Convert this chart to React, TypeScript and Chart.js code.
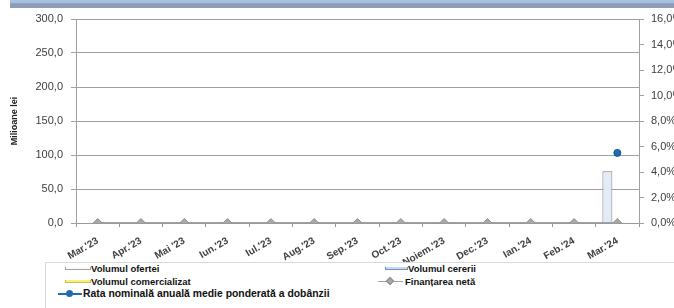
import React, { useEffect, useRef } from "react";
import { Chart, registerables } from "chart.js";

Chart.register(...registerables);

const categories = [
  "Mar.'23", "Apr.'23", "Mai '23", "Iun.'23", "Iul.'23", "Aug.'23", "Sep.'23",
  "Oct.'23", "Noiem.'23", "Dec.'23", "Ian.'24", "Feb.'24", "Mar.'24",
];
const volumulOfertei = [0, 0, 0, 0, 0, 0, 0, 0, 0, 0, 0, 0, 76];
const volumulCererii = [0, 0, 0, 0, 0, 0, 0, 0, 0, 0, 0, 0, 0];
const volumulComercializat = [0, 0, 0, 0, 0, 0, 0, 0, 0, 0, 0, 0, 1];
const finantareaNeta = [0, 0, 0, 0, 0, 0, 0, 0, 0, 0, 0, 0, 0];
const rataDobanzii = [null, null, null, null, null, null, null, null, null, null, null, null, 5.5];

const FONT = "'Liberation Sans', Arial, sans-serif";

export default function App() {
  const ref = useRef<HTMLCanvasElement | null>(null);
  useEffect(() => {
    if (!ref.current) return;
    const chart = new Chart(ref.current, {
      type: "bar",
      data: {
        labels: categories,
        datasets: [
          {
            type: "bar",
            label: "Volumul ofertei",
            data: volumulOfertei,
            backgroundColor: "#e3ebf6",
            borderColor: "#7f7f7f",
            borderWidth: 1,
            yAxisID: "y",
            order: 3,
          },
          {
            type: "bar",
            label: "Volumul cererii",
            data: volumulCererii,
            backgroundColor: "#c5d9f1",
            borderColor: "#7090b8",
            borderWidth: 1,
            yAxisID: "y",
            order: 3,
          },
          {
            type: "bar",
            label: "Volumul comercializat",
            data: volumulComercializat,
            backgroundColor: "#f5f07a",
            borderColor: "#d8d060",
            borderWidth: 1,
            yAxisID: "y",
            order: 3,
          },
          {
            type: "line",
            label: "Finanțarea netă",
            data: finantareaNeta,
            borderColor: "#a0a0a0",
            borderWidth: 2,
            backgroundColor: "#a6a6a6",
            pointStyle: "rectRot",
            pointRadius: 4.5,
            pointBorderColor: "#909090",
            pointBackgroundColor: "#a8a8a8",
            pointBorderWidth: 1,
            yAxisID: "y",
            order: 1,
          },
          {
            type: "line",
            label: "Rata nominală anuală medie ponderată a dobânzii",
            data: rataDobanzii as any,
            borderColor: "#1f6cb0",
            borderWidth: 2,
            pointRadius: 3.5,
            pointBackgroundColor: "#1f6cb0",
            pointBorderColor: "#15508a",
            pointBorderWidth: 1,
            yAxisID: "y1",
            order: 0,
          },
        ],
      },
      options: {
        animation: false,
        responsive: true,
        maintainAspectRatio: false,
        layout: { padding: { top: 19, left: 0, right: 0, bottom: 0 } },
        datasets: { bar: { barPercentage: 1, categoryPercentage: 0.69 } },
        plugins: { legend: { display: false }, tooltip: { enabled: false } },
        scales: {
          x: {
            offset: true,
            grid: { display: true, drawOnChartArea: false, offset: true, tickLength: 4, color: "#9a9a9a" },
            border: { color: "#9a9a9a" },
            ticks: {
              maxRotation: 30,
              minRotation: 30,
              padding: 8,
              color: "#404040",
              font: { family: FONT, size: 10, weight: "bold" },
            },
            afterFit: (s: any) => { s.height = 39; },
          },
          y: {
            position: "left",
            min: 0,
            max: 300,
            ticks: {
              stepSize: 50,
              color: "#404040",
              padding: 8,
              font: { family: FONT, size: 11 },
              callback: (v: any) => Number(v).toFixed(1).replace(".", ","),
            },
            grid: { color: "#a0a0a0", tickLength: 5 },
            border: { color: "#a0a0a0" },
            title: {
              display: true,
              text: "Milioane lei",
              color: "#202020",
              font: { family: FONT, size: 9, weight: "bold" },
              padding: { top: 9, bottom: 0 },
            },
            afterFit: (s: any) => { s.width = 76; },
          },
          y1: {
            position: "right",
            min: 0,
            max: 16,
            ticks: {
              stepSize: 2,
              color: "#404040",
              padding: 7,
              font: { family: FONT, size: 11 },
              callback: (v: any) => Number(v).toFixed(1).replace(".", ",") + "%",
            },
            grid: { drawOnChartArea: false, color: "#a0a0a0", tickLength: 5 },
            border: { color: "#a0a0a0" },
            afterFit: (s: any) => { s.width = 35; },
          },
        },
      },
    });
    return () => chart.destroy();
  }, []);

  const legText: React.CSSProperties = {
    position: "absolute",
    fontFamily: FONT,
    fontSize: 9.5,
    fontWeight: "bold",
    color: "#111",
    whiteSpace: "nowrap",
    lineHeight: "11px",
  };

  return (
    <div style={{ position: "fixed", left: 0, top: 0, width: 674, height: 308, background: "#fff", overflow: "hidden" }}>
      <div
        style={{
          position: "absolute", left: 10, top: 0, width: 664, height: 8,
          background: "linear-gradient(#a6c0e2 0%, #a6c0e2 40%, #8d9db6 45%, #8d9db6 100%)",
        }}
      />
      <div style={{ position: "absolute", left: 0, top: 0, width: 674, height: 262 }}>
        <canvas ref={ref} />
      </div>
      <div
        style={{
          position: "absolute", left: 45, top: 262, width: 640, height: 60,
          borderTop: "1px solid #d9d9d9", borderLeft: "1px solid #d9d9d9",
        }}
      />
      {/* Volumul ofertei */}
      <div style={{ position: "absolute", left: 65, top: 267, width: 24, height: 2, background: "#fafafa", border: "1px solid #a0a0a0", borderTop: "none" }} />
      <div style={{ ...legText, left: 91, top: 263 }}>Volumul ofertei</div>
      {/* Volumul comercializat */}
      <div style={{ position: "absolute", left: 65, top: 280, width: 24, height: 2, background: "#f5f07a", border: "1px solid #c8c050", borderTop: "none" }} />
      <div style={{ ...legText, left: 91, top: 276 }}>Volumul comercializat</div>
      {/* Rata */}
      <div style={{ position: "absolute", left: 58, top: 293, width: 24, height: 2, background: "#1f6cb0" }} />
      <div style={{ position: "absolute", left: 66, top: 290, width: 7, height: 7, borderRadius: "50%", background: "#1f6cb0" }} />
      <div style={{ ...legText, fontSize: 10.4, left: 83, top: 288 }}>Rata nominală anuală medie ponderată a dobânzii</div>
      {/* Volumul cererii */}
      <div style={{ position: "absolute", left: 385, top: 267, width: 21, height: 2, background: "#c5d9f1", border: "1px solid #7090b8", borderTop: "none" }} />
      <div style={{ ...legText, left: 408, top: 263 }}>Volumul cererii</div>
      {/* Finantarea neta */}
      <div style={{ position: "absolute", left: 378, top: 281, width: 25, height: 1, background: "#a0a0a0" }} />
      <div style={{ position: "absolute", left: 387, top: 278, width: 6, height: 6, transform: "rotate(45deg)", background: "#a8a8a8", border: "1px solid #909090", boxSizing: "border-box" }} />
      <div style={{ ...legText, left: 405, top: 276 }}>Finanțarea netă</div>
    </div>
  );
}
